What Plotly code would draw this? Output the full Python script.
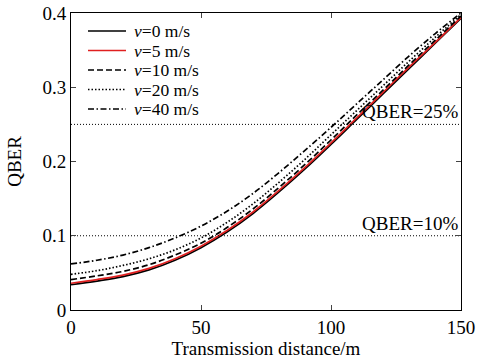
import plotly.graph_objects as go

distance = [0, 10, 20, 30, 40, 50, 60, 70, 80, 90, 100, 110, 120, 130, 140, 150]
qber_v0 = [0.034, 0.039, 0.045, 0.054, 0.067, 0.084, 0.105, 0.130, 0.159, 0.190, 0.223, 0.257, 0.291, 0.325, 0.359, 0.393]
qber_v5 = [0.036, 0.041, 0.047, 0.056, 0.069, 0.086, 0.107, 0.132, 0.161, 0.192, 0.225, 0.259, 0.293, 0.327, 0.360, 0.394]
qber_v10 = [0.041, 0.046, 0.052, 0.061, 0.074, 0.090, 0.111, 0.136, 0.165, 0.196, 0.229, 0.263, 0.296, 0.330, 0.363, 0.396]
qber_v20 = [0.048, 0.053, 0.060, 0.069, 0.081, 0.097, 0.118, 0.143, 0.172, 0.203, 0.236, 0.269, 0.302, 0.335, 0.367, 0.398]
qber_v40 = [0.062, 0.067, 0.074, 0.084, 0.097, 0.113, 0.133, 0.157, 0.185, 0.215, 0.246, 0.278, 0.310, 0.342, 0.372, 0.400]
thresholds = [0.25, 0.10]
threshold_labels = ["QBER=25%", "QBER=10%"]
x_ticks = [0, 50, 100, 150]
y_ticks = [0, 0.1, 0.2, 0.3, 0.4]
y_ticklabels = ["0", "0.1", "0.2", "0.3", "0.4"]

FONT = "Liberation Serif"
W, H = 483, 359
ML, MR, MT, MB = 71, 22, 13, 49

series = [
    ("<i>v</i>=0 m/s", qber_v0, "black", "solid"),
    ("<i>v</i>=5 m/s", qber_v5, "#e02020", "solid"),
    ("<i>v</i>=10 m/s", qber_v10, "black", "6px,3px"),
    ("<i>v</i>=20 m/s", qber_v20, "black", "1.5px,2px"),
    ("<i>v</i>=40 m/s", qber_v40, "black", "6px,2.5px,1.5px,2.5px"),
]

fig = go.Figure()
for name, ys, col, dash in series:
    fig.add_trace(go.Scatter(x=distance, y=ys, mode="lines", name=name, showlegend=False,
                             line=dict(color=col, width=1.7, dash=dash, shape="spline")))

for t, lab in zip(thresholds, threshold_labels):
    fig.add_trace(go.Scatter(x=[x_ticks[0], x_ticks[-1]], y=[t, t], mode="lines",
                             showlegend=False, line=dict(color="black", width=1, dash="1px,2px")))
    fig.add_annotation(x=x_ticks[-1], y=t, text=lab, showarrow=False,
                       xanchor="right", yanchor="bottom", xshift=-1, yshift=0,
                       font=dict(family=FONT, size=19, color="black"))

# manual legend (compact spacing like the reference)
pw = W - ML - MR
ph = H - MT - MB
def px_x(p):
    return (p - ML) / pw
def px_y(p):
    return (H - MB - p) / ph

leg_top = 31
leg_step = 19.5
for i, (name, ys, col, dash) in enumerate(series):
    yy = px_y(leg_top + i * leg_step)
    fig.add_shape(type="line", xref="paper", yref="paper",
                  x0=px_x(88), x1=px_x(126), y0=yy, y1=yy,
                  line=dict(color=col, width=1.7, dash=dash))
    fig.add_annotation(xref="paper", yref="paper", x=px_x(133), y=yy, text=name,
                       showarrow=False, xanchor="left", yanchor="middle", borderpad=0,
                       font=dict(family=FONT, size=17.5, color="black"))

fig.update_layout(
    width=W, height=H,
    margin=dict(l=ML, r=MR, t=MT, b=MB),
    paper_bgcolor="white", plot_bgcolor="white",
    font=dict(family=FONT, size=19, color="black"),
    showlegend=False,
    xaxis=dict(range=[0, 150], tickvals=x_ticks, ticks="inside", ticklen=5,
               showline=True, linecolor="black", linewidth=1, mirror="ticks",
               showgrid=False, zeroline=False, automargin=False,
               tickfont=dict(family=FONT, size=19),
               title=dict(text="Transmission distance/m", font=dict(family=FONT, size=19))),
    yaxis=dict(range=[0, 0.4], tickvals=y_ticks, ticktext=y_ticklabels,
               ticks="inside", ticklen=5,
               showline=True, linecolor="black", linewidth=1, mirror="ticks",
               showgrid=False, zeroline=False, automargin=False,
               tickfont=dict(family=FONT, size=19),
               title=dict(text="QBER", font=dict(family=FONT, size=19))),
)

fig.write_html("out.html")
